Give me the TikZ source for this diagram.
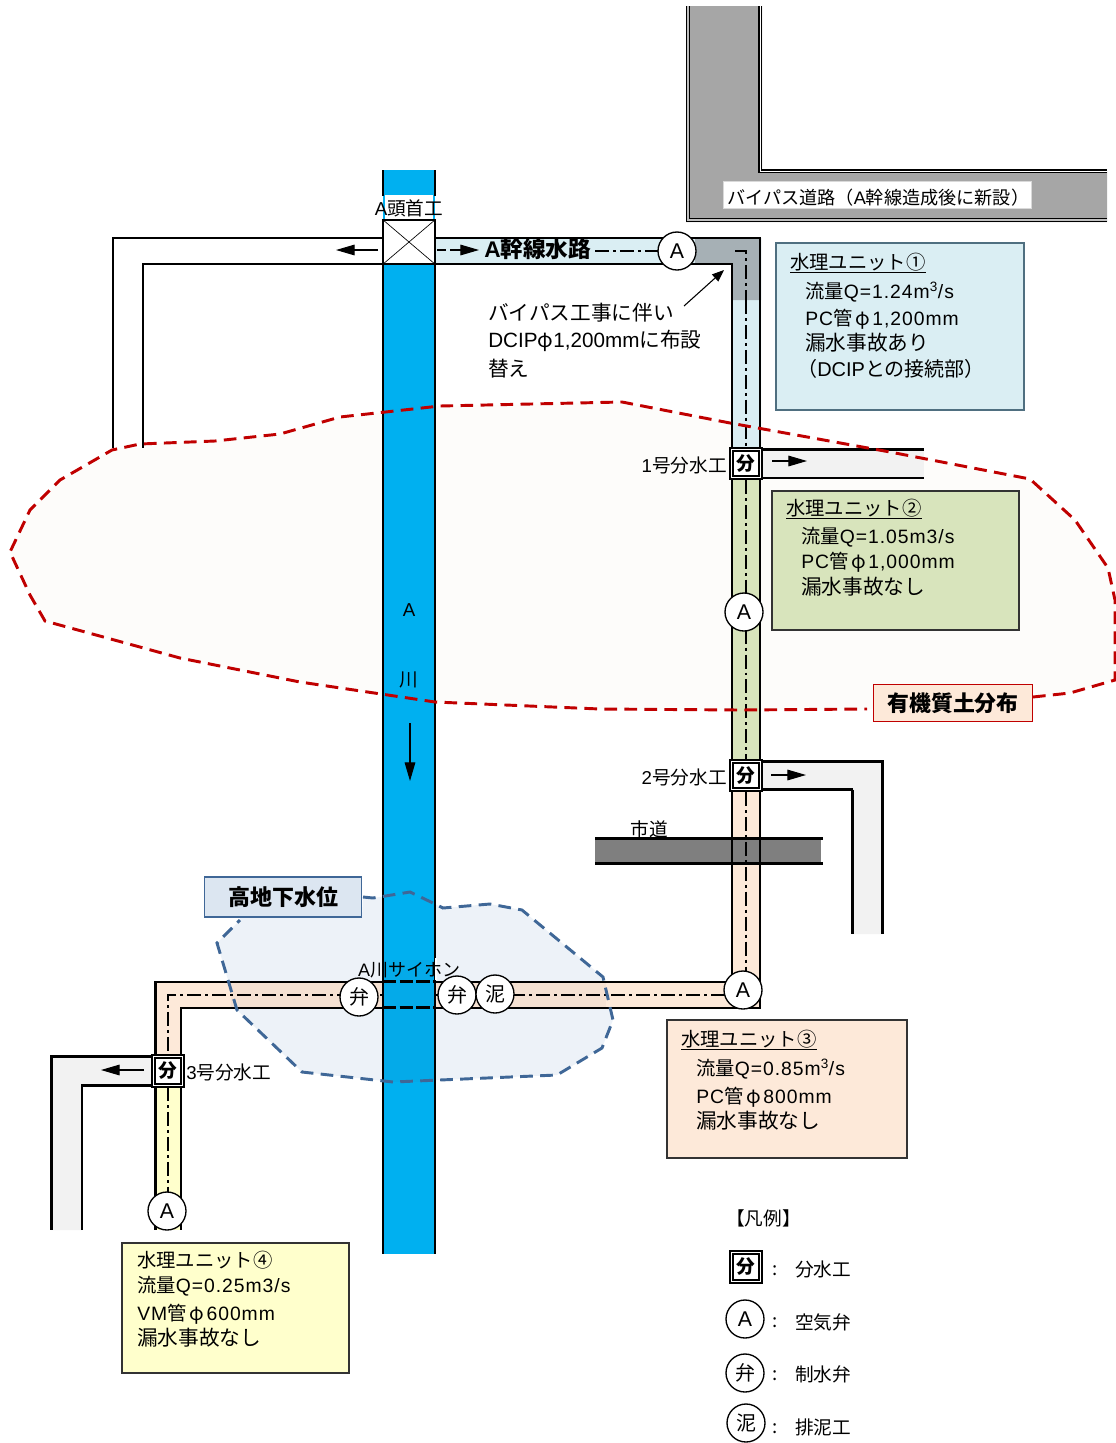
\documentclass[tikz,border=0pt]{standalone}
\usepackage{fontspec}
\setmainfont{Noto Sans CJK JP}
\newfontfamily\lat{Liberation Sans}
\newfontfamily\latw[LetterSpace=5]{Liberation Sans}
\usetikzlibrary{arrows.meta}
\definecolor{river}{HTML}{00B0F0}
\definecolor{uone}{HTML}{DAEEF3}
\definecolor{utwo}{HTML}{D8E4BC}
\definecolor{uthree}{HTML}{FDE9D9}
\definecolor{ufour}{HTML}{FFFFCC}
\definecolor{branchc}{HTML}{F2F2F2}
\definecolor{roadg}{HTML}{A6A6A6}
\definecolor{cityg}{HTML}{7F7F7F}
\definecolor{redd}{HTML}{C00000}
\definecolor{blued}{HTML}{3F6797}
\definecolor{bluef}{HTML}{DCE6F1}
\definecolor{repl}{HTML}{A6B0B5}
\definecolor{soil}{HTML}{FDFCFA}
\definecolor{uoneb}{HTML}{4F6F80}
\newcommand{\fs}[1]{\fontsize{#1}{#1}\selectfont}
\newcommand{\ltn}[1]{{\lat #1}}
\newcommand{\ltw}[1]{{\latw #1}}
\newcommand{\phig}{\hspace{2pt}φ\hspace{2pt}}
\tikzset{
  wall/.style={draw=black,line width=2.1pt,line join=miter},
  center line/.style={draw=black,line width=1.5pt,dash pattern=on 10.5pt off 3pt on 2.2pt off 3pt},
  valve/.style={circle,draw=black,line width=1pt,fill=white,minimum size=28.5pt,inner sep=0pt,font=\fs{15}},
  bunsui/.style={rectangle,draw=black,line width=1.4pt,double=white,double distance=0.9pt,fill=white,minimum size=21.5pt,inner sep=0pt,font=\fs{14}\bfseries},
  lbl/.style={inner sep=0pt,anchor=west,font=\fs{14.5}},
  lblw/.style={inner sep=0pt,anchor=west,font=\fs{15.5}},
  small/.style={inner sep=0pt,font=\fs{14}},
  flow/.style={-{Triangle[length=14pt,width=8pt]},line width=0.8pt},
  thinflow/.style={-{Triangle[length=9pt,width=7pt]},line width=0.8pt},
}
\begin{document}
\begin{tikzpicture}[x=0.75pt,y=-0.75pt]
\useasboundingbox (0,0) rectangle (1116,1443);
% organic soil fill
\fill[soil] (10,552) -- (30,510) -- (60,480) -- (112,450) -- (140,444) -- (215,441) -- (280,434) -- (340,417) -- (440,406) -- (622,402) -- (730,423) -- (890,452) -- (1030,479) -- (1075,520) -- (1108,568) -- (1115,600) -- (1115,680) -- (1070,693) -- (1033,697) -- (867,709) -- (740,710) -- (600,709) -- (435,702) -- (300,682) -- (180,658) -- (45,621) -- (30,595) -- cycle;
% bypass road
\fill[roadg] (686,6) -- (762,6) -- (762,171) -- (1107,171) -- (1107,222) -- (686,222) -- cycle;
\draw[draw=black,line width=1.3pt,double=white!75!black,double distance=0.8pt] (688,6) -- (688,220) -- (1107,220);
\draw[draw=black,line width=1.2pt,double=white,double distance=0.7pt] (760,6) -- (760,171) -- (1107,171);
\node[draw=white!85!black,fill=white,minimum width=231pt,minimum height=20pt,inner sep=0pt] (bypassbox) at (877.5,194.5) {};
\node[inner sep=0pt,font=\fs{13.6},anchor=west] (bypasstext) at (727,198) {バイパス道路（\ltn{A}幹線造成後に新設）};
% groundwater fill under the pipes
\fill[bluef,fill opacity=0.5] (363,897) -- (373,898) -- (410,892) -- (433,903) -- (443,908) -- (490,904) -- (522,910) -- (603,977) -- (613,1020) -- (602,1048) -- (557,1075) -- (393,1082) -- (302,1072) -- (237,1010) -- (217,943) -- (240,920) -- (240,917) -- (362,917) -- cycle;
% pipe fills
\fill[white] (113,238) rectangle (383,264);
\fill[white] (113,238) rectangle (143,448);
\fill[uone] (435,238) -- (761,238) -- (761,448) -- (731,448) -- (731,264) -- (435,264) -- cycle;
\fill[repl] (695,238) -- (761,238) -- (761,300) -- (731,300) -- (731,264) -- (695,264) -- cycle;
\fill[branchc] (761,449) rectangle (924,478);
\fill[utwo] (731,480) rectangle (761,761);
\fill[branchc] (761,761) -- (883,761) -- (883,934) -- (852,934) -- (852,790) -- (761,790) -- cycle;
\fill[uthree] (731,790) -- (761,790) -- (761,1008) -- (181,1008) -- (181,1057) -- (155,1057) -- (155,982) -- (731,982) -- cycle;
\fill[branchc] (155,1056) -- (51,1056) -- (51,1230) -- (82,1230) -- (82,1086) -- (155,1086) -- cycle;
\fill[ufour] (155,1086) rectangle (181,1230);
% tint of the pipe inside the groundwater area
\fill[black,fill opacity=0.03] (231,982) rectangle (606,1008);
% city road
\fill[cityg] (595,838) rectangle (821,864);
\draw[line width=2.6pt] (595,838.5) -- (823,838.5) (595,863.5) -- (823,863.5);
% pipe walls
\draw[wall] (383,238) -- (113,238) -- (113,448);
\draw[wall] (383,264) -- (143,264) -- (143,448);
\draw[wall] (435,238) -- (760,238) -- (760,448);
\draw[wall] (435,264) -- (732,264) -- (732,448);
\draw[wall] (761,449.5) -- (924,449.5) (761,478) -- (924,478);
\draw[wall] (732,480) -- (732,761) (760,480) -- (760,761);
\draw[wall] (761,761.5) -- (882.5,761.5) -- (882.5,934);
\draw[wall] (761,789.5) -- (853,789.5) (852.5,789.5) -- (852.5,934);
\draw[wall] (732,791) -- (732,982) -- (155.5,982) -- (155.5,1056);
\draw[wall] (760,791) -- (760,1008) -- (181,1008) -- (181,1056);
\draw[wall] (155,1056.5) -- (51.5,1056.5) -- (51.5,1230);
\draw[wall] (155,1085.5) -- (82,1085.5) -- (82,1230);
\draw[wall] (155.5,1087) -- (155.5,1230);
\draw[wall] (181,1087) -- (181,1230);
% center lines
\draw[center line] (746,300) -- (746,448);
\draw[center line] (735,251) -- (746,251) -- (746,300);
\draw[center line] (595,251) -- (660,251);
\draw[center line] (746,480) -- (746,760);
\draw[center line] (746,792) -- (746,995) -- (168,995) -- (168,1056);
\draw[center line] (168,1087) -- (168,1195);
% river
\fill[river] (383,170) rectangle (435,1254);
\fill[blued,fill opacity=0.07] (383,960) rectangle (435,1082);
\draw[line width=1.9pt] (383,170) -- (383,196) (435,170) -- (435,196) (383,220) -- (383,1254) (435,220) -- (435,1254);
\fill[white] (385,195) rectangle (433,220);
% siphon
\draw[line width=2.2pt,dash pattern=on 10pt off 2.5pt] (383,981.5) -- (435,981.5) (383,1007.5) -- (435,1007.5);
\fill[white] (434.5,958) rectangle (437,980);
% boundaries
\draw[redd,line width=2.2pt,dash pattern=on 9.5pt off 5.5pt] (1033,697) -- (1070,693) -- (1115,680) -- (1115,600) -- (1108,568) -- (1075,520) -- (1030,479) -- (890,452) -- (730,423) -- (622,402) -- (440,406) -- (340,417) -- (280,434) -- (215,441) -- (140,444) -- (112,450) -- (60,480) -- (30,510) -- (10,552) -- (30,595) -- (45,621) -- (180,658) -- (300,682) -- (435,702) -- (600,709) -- (740,710) -- (867,709);
\draw[blued,line width=2.2pt,dash pattern=on 9.5pt off 5.5pt] (363,897) -- (373,898) -- (410,892) -- (433,903) -- (443,908) -- (490,904) -- (522,910) -- (603,977) -- (613,1020) -- (602,1048) -- (557,1075) -- (393,1082) -- (302,1072) -- (237,1010) -- (217,943) -- (240,920);
% head works
\node[small] (headlabel) at (409,208) {\ltn{A}頭首工};
\node[draw=black,line width=1.2pt,fill=white,minimum width=39pt,minimum height=33pt,inner sep=0pt] (head) at (409,242) {};
\draw[line width=0.5pt] (head.north west) -- (head.south east) (head.north east) -- (head.south west);
% flow arrows
\draw[flow] (378,250) -- (336,250);
\draw[flow,dash pattern=on 7pt off 3pt on 20pt] (437,250) -- (479,250);
\draw[flow] (410,723) -- (410,781);
\draw[flow] (772,461) -- (807,461);
\draw[flow] (771,775) -- (806,775);
\draw[flow] (144,1070) -- (101,1070);
\draw[thinflow] (684,306) -- (724,270);
% texts
\node[lbl,font=\fs{17}\bfseries] (mainlabel) at (484,249) {\ltn{A}幹線水路};
\node[lbl,font=\fs{15.5}] (note1) at (488,313) {バイパス工事に伴い};
\node[lbl,font=\fs{15.5}] (note2) at (488,341) {\ltn{DCIP}φ\ltn{1,200mm}に布設};
\node[lbl,font=\fs{15.5}] (note3) at (488,369) {替え};
\node[small] (riverA) at (409,610) {\ltn{A}};
\node[small] (riverK) at (409,680) {川};
\node[small,anchor=east] (no1) at (727,465) {\ltn{1}号分水工};
\node[small,anchor=east] (no2) at (727,777) {\ltn{2}号分水工};
\node[small,anchor=west] (no3) at (186,1072) {\ltn{3}号分水工};
\node[small] (cityroad) at (649,829) {市道};
\node[inner sep=0pt,font=\fs{13.5}] (siphon) at (409,970) {\ltn{A}川サイホン};
% turnouts and valves
\node[bunsui] (t1) at (746,463.5) {分};
\node[bunsui] (t2) at (746,775.5) {分};
\node[bunsui] (t3) at (168,1071) {分};
\node[valve,font=\fs{16}] (a1) at (677,251) {\ltn{A}};
\node[valve,font=\fs{16}] (a2) at (744,612) {\ltn{A}};
\node[valve,font=\fs{16}] (a3) at (743,990) {\ltn{A}};
\node[valve,font=\fs{16}] (a4) at (167,1211) {\ltn{A}};
\node[valve] (v1) at (359,997) {弁};
\node[valve] (v2) at (457,995) {弁};
\node[valve] (d1) at (495,994) {泥};
% unit boxes
\fill[uone,draw=uoneb,line width=0.8pt] (776,243) rectangle (1024,410);
\node[lbl] (u1a) at (790,263) {\underline{水理ユニット①}};
\node[lbl] (u1b) at (805,292) {流量\ltw{Q=1.24m\textsuperscript{3}/s}};
\node[lbl] (u1c) at (805,319) {\ltw{PC}管\phig\ltw{1,200mm}};
\node[lblw] (u1d) at (805,343) {漏水事故あり};
\node[lbl,font=\fs{15}] (u1e) at (797,369) {（\ltn{DCIP}との接続部）};
\fill[utwo,draw=black!80,line width=0.8pt] (772,491) rectangle (1019,630);
\node[lbl] (u2a) at (786,509) {\underline{水理ユニット②}};
\node[lbl] (u2b) at (801,537) {流量\ltw{Q=1.05m3/s}};
\node[lbl] (u2c) at (801,562) {\ltw{PC}管\phig\ltw{1,000mm}};
\node[lblw] (u2d) at (801,587) {漏水事故なし};
\fill[uthree,draw=black!80,line width=0.8pt] (667,1020) rectangle (907,1158);
\node[lbl] (u3a) at (681,1040) {\underline{水理ユニット③}};
\node[lbl] (u3b) at (696,1069) {流量\ltw{Q=0.85m\textsuperscript{3}/s}};
\node[lbl] (u3c) at (696,1097) {\ltw{PC}管\phig\ltw{800mm}};
\node[lblw] (u3d) at (696,1121) {漏水事故なし};
\fill[ufour,draw=black!80,line width=0.8pt] (122,1243) rectangle (349,1373);
\node[lbl] (u4a) at (137,1260) {水理ユニット④};
\node[lbl] (u4b) at (137,1286) {流量\ltw{Q=0.25m3/s}};
\node[lbl] (u4c) at (137,1314) {\ltw{VM}管\phig\ltw{600mm}};
\node[lblw] (u4d) at (137,1338) {漏水事故なし};
% callouts
\node[draw=redd,line width=1pt,fill=uthree,minimum width=119pt,minimum height=28pt,inner sep=0pt,font=\fs{16.4}\bfseries] (organic) at (953,703) {有機質土分布};
\node[draw=blued,line width=1pt,fill=bluef,minimum width=118pt,minimum height=30pt,inner sep=0pt,font=\fs{16.5}\bfseries] (groundwater) at (283,897) {高地下水位};
% legend
\node[lbl,font=\fs{14}] (legtitle) at (726,1218) {【凡例】};
\node[bunsui] (lt) at (746,1267) {分};
\node[valve,font=\fs{16}] (la) at (745,1319) {\ltn{A}};
\node[valve] (lv) at (745,1373) {弁};
\node[valve] (ld) at (746,1423) {泥};
\node[small] (c1) at (775,1271) {:};
\node[small] (c2) at (775,1323) {:};
\node[small] (c3) at (775,1376) {:};
\node[small] (c4) at (775,1429) {:};
\node[lbl,font=\fs{14}] (l1) at (795,1269) {分水工};
\node[lbl,font=\fs{14}] (l2) at (795,1322) {空気弁};
\node[lbl,font=\fs{14}] (l3) at (795,1374) {制水弁};
\node[lbl,font=\fs{14}] (l4) at (795,1427) {排泥工};
\end{tikzpicture}
\end{document}
